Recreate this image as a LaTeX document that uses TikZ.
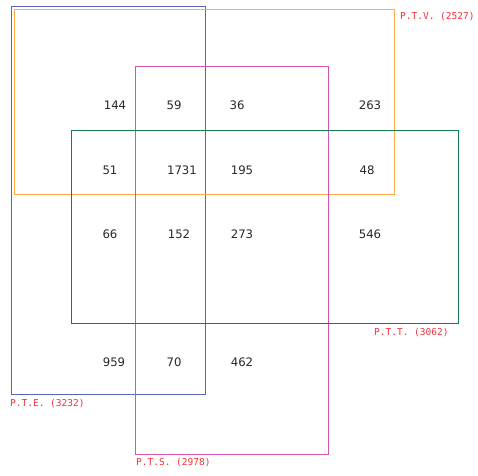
\documentclass[tikz,border=0pt]{standalone}
\usepackage{fontspec}
\setmainfont{DejaVu Sans}
\newfontfamily\labfont{DejaVu Sans Mono}
\definecolor{cblue}{RGB}{90,100,180}
\definecolor{corange}{RGB}{255,170,70}
\definecolor{cmag}{RGB}{215,80,180}
\definecolor{cgreen}{RGB}{20,125,75}
\definecolor{cred}{RGB}{240,50,60}
\definecolor{ctext}{RGB}{40,40,40}
\begin{document}
\begin{tikzpicture}[x=1pt,y=-1pt,
  setbox/.style={line width=1pt},
  num/.style={font=\fontsize{11.7}{13}\selectfont, text=ctext, inner sep=0pt},
  lab/.style={font=\labfont\fontsize{9.5}{11}\selectfont, text=cred, inner sep=0pt, anchor=west}]
\useasboundingbox (0,0) rectangle (478,475);
\fill[white] (0,0) rectangle (478,475);
\draw[setbox, cblue] (11.5,6.5) rectangle (205.5,394);
\draw[setbox, corange] (14.5,9.5) rectangle (394.5,194.5);
\draw[setbox, cmag] (135,66) rectangle (328.5,454.5);
\draw[setbox, cgreen] (71,130) rectangle (458.5,323.5);
\node[lab] (lv) at (400,17) {P.T.V. (2527)};
\node[lab] (le) at (10,404) {P.T.E. (3232)};
\node[lab] (ls) at (136,463) {P.T.S. (2978)};
\node[lab] (lt) at (374,333) {P.T.T. (3062)};
\node[num] (n1) at (115,105) {144};
\node[num] (n2) at (174,105) {59};
\node[num] (n3) at (237,105) {36};
\node[num] (n4) at (370,105) {263};
\node[num] (n5) at (110,170) {51};
\node[num] (n6) at (182,170) {1731};
\node[num] (n7) at (242,170) {195};
\node[num] (n8) at (367,170) {48};
\node[num] (n9) at (110,234) {66};
\node[num] (n10) at (179,234) {152};
\node[num] (n11) at (242,234) {273};
\node[num] (n12) at (370,234) {546};
\node[num] (n13) at (114,362) {959};
\node[num] (n14) at (174,362) {70};
\node[num] (n15) at (242,362) {462};
\end{tikzpicture}
\end{document}
